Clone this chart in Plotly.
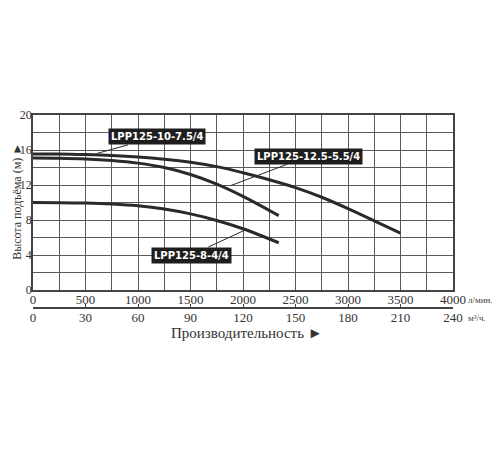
import plotly.graph_objects as go

# напор-расход, л/мин -> м
flow_a = [0, 250, 500, 750, 1000, 1250, 1500, 1750, 2000, 2250, 2500, 2750, 3000, 3250, 3500]
head_a = [15.55, 15.55, 15.48, 15.37, 15.2, 14.95, 14.6, 14.1, 13.4, 12.6, 11.7, 10.6, 9.3, 7.9, 6.5]

flow_b = [0, 250, 500, 750, 1000, 1250, 1500, 1750, 2000, 2340]
head_b = [15.1, 15.07, 14.98, 14.8, 14.5, 14.0, 13.2, 12.1, 10.7, 8.5]

flow_c = [0, 250, 500, 750, 1000, 1250, 1500, 1750, 2000, 2340]
head_c = [10.0, 9.98, 9.93, 9.82, 9.62, 9.25, 8.7, 7.95, 7.0, 5.4]

names = ["LPP125-10-7.5/4", "LPP125-12.5-5.5/4", "LPP125-8-4/4"]
# точка на кривой и положение подписи
label_pts = [(607, 15.6), (1876, 11.9), (2019, 6.85)]
label_pos = [(1181, 17.5), (2627, 15.3), (1505, 4.0)]

lpm_ticks = [0, 500, 1000, 1500, 2000, 2500, 3000, 3500, 4000]
m3h_ticks = [0, 30, 60, 90, 120, 150, 180, 210, 240]

serif = "Liberation Serif"
ink = "#2a2a2a"

fig = go.Figure()
for fx, hy in [(flow_a, head_a), (flow_b, head_b), (flow_c, head_c)]:
    fig.add_trace(go.Scatter(x=fx, y=hy, mode="lines", line_shape="spline",
                             line=dict(color=ink, width=3), showlegend=False,
                             hoverinfo="skip"))

# невидимый след для второй оси (м³/ч)
fig.add_trace(go.Scatter(x=m3h_ticks, y=[0] * len(m3h_ticks), xaxis="x2",
                         mode="markers", marker=dict(opacity=0),
                         showlegend=False, hoverinfo="skip"))

for name, (px_, py_), (tx, ty) in zip(names, label_pts, label_pos):
    fig.add_annotation(x=px_, y=py_, ax=tx, ay=ty, axref="x", ayref="y",
                       text="<b>" + name + "</b>", showarrow=True,
                       arrowhead=0, arrowwidth=1, arrowcolor=ink,
                       bgcolor="#1e1e1e", borderpad=2,
                       font=dict(family="DejaVu Sans", size=10, color="white"))

fig.add_annotation(xref="paper", yref="paper", x=1.031, y=0.041,
                   xanchor="left", yanchor="middle",
                   text="л/мин.", showarrow=False,
                   font=dict(family=serif, size=9, color="#444"))
fig.add_annotation(xref="paper", yref="paper", x=1.031, y=-0.052,
                   xanchor="left", yanchor="middle",
                   text="м³/ч.", showarrow=False,
                   font=dict(family=serif, size=9, color="#444"))
fig.add_annotation(xref="paper", yref="paper", x=0.51, y=-0.13, yanchor="middle",
                   text="Производительность ►", showarrow=False,
                   font=dict(family=serif, size=15, color="#333"))
fig.add_annotation(xref="paper", yref="paper", x=-0.0595, y=0.55,
                   xanchor="left", yanchor="middle",
                   text="Высота подъёма (м) ►", textangle=-90, showarrow=False,
                   font=dict(family=serif, size=12, color="#333"))

grid = "#5a5a5a"
fig.update_layout(
    width=500, height=450,
    margin=dict(l=25, r=55, t=107, b=150),
    paper_bgcolor="white", plot_bgcolor="white",
    xaxis=dict(range=[0, 4000], tickvals=lpm_ticks, showgrid=True,
               gridcolor=grid, gridwidth=1, automargin=False,
               minor=dict(dtick=250, showgrid=True, gridcolor=grid, gridwidth=1),
               showline=True, linecolor="#444", linewidth=1.5, mirror=True,
               zeroline=False, anchor="y", ticklabelstandoff=-3,
               tickfont=dict(family=serif, size=13, color="#333")),
    xaxis2=dict(range=[0, 240], tickvals=m3h_ticks, overlaying="x",
                anchor="free", position=0, side="bottom", automargin=False,
                showgrid=False, zeroline=False, showline=True,
                linecolor="#444", linewidth=1.5, ticks="inside", ticklen=3,
                tickcolor="#444", ticklabelstandoff=-2,
                tickfont=dict(family=serif, size=13, color="#333")),
    yaxis=dict(range=[0, 20], domain=[18 / 193, 1], dtick=4, showgrid=True,
               gridcolor=grid, gridwidth=1, automargin=False,
               minor=dict(dtick=2, showgrid=True, gridcolor=grid, gridwidth=1),
               showline=True, linecolor="#444", linewidth=1.5, mirror=True,
               zeroline=False, ticklabelstandoff=-3,
               tickfont=dict(family=serif, size=12, color="#333")),
)

fig.write_html("out.html")
